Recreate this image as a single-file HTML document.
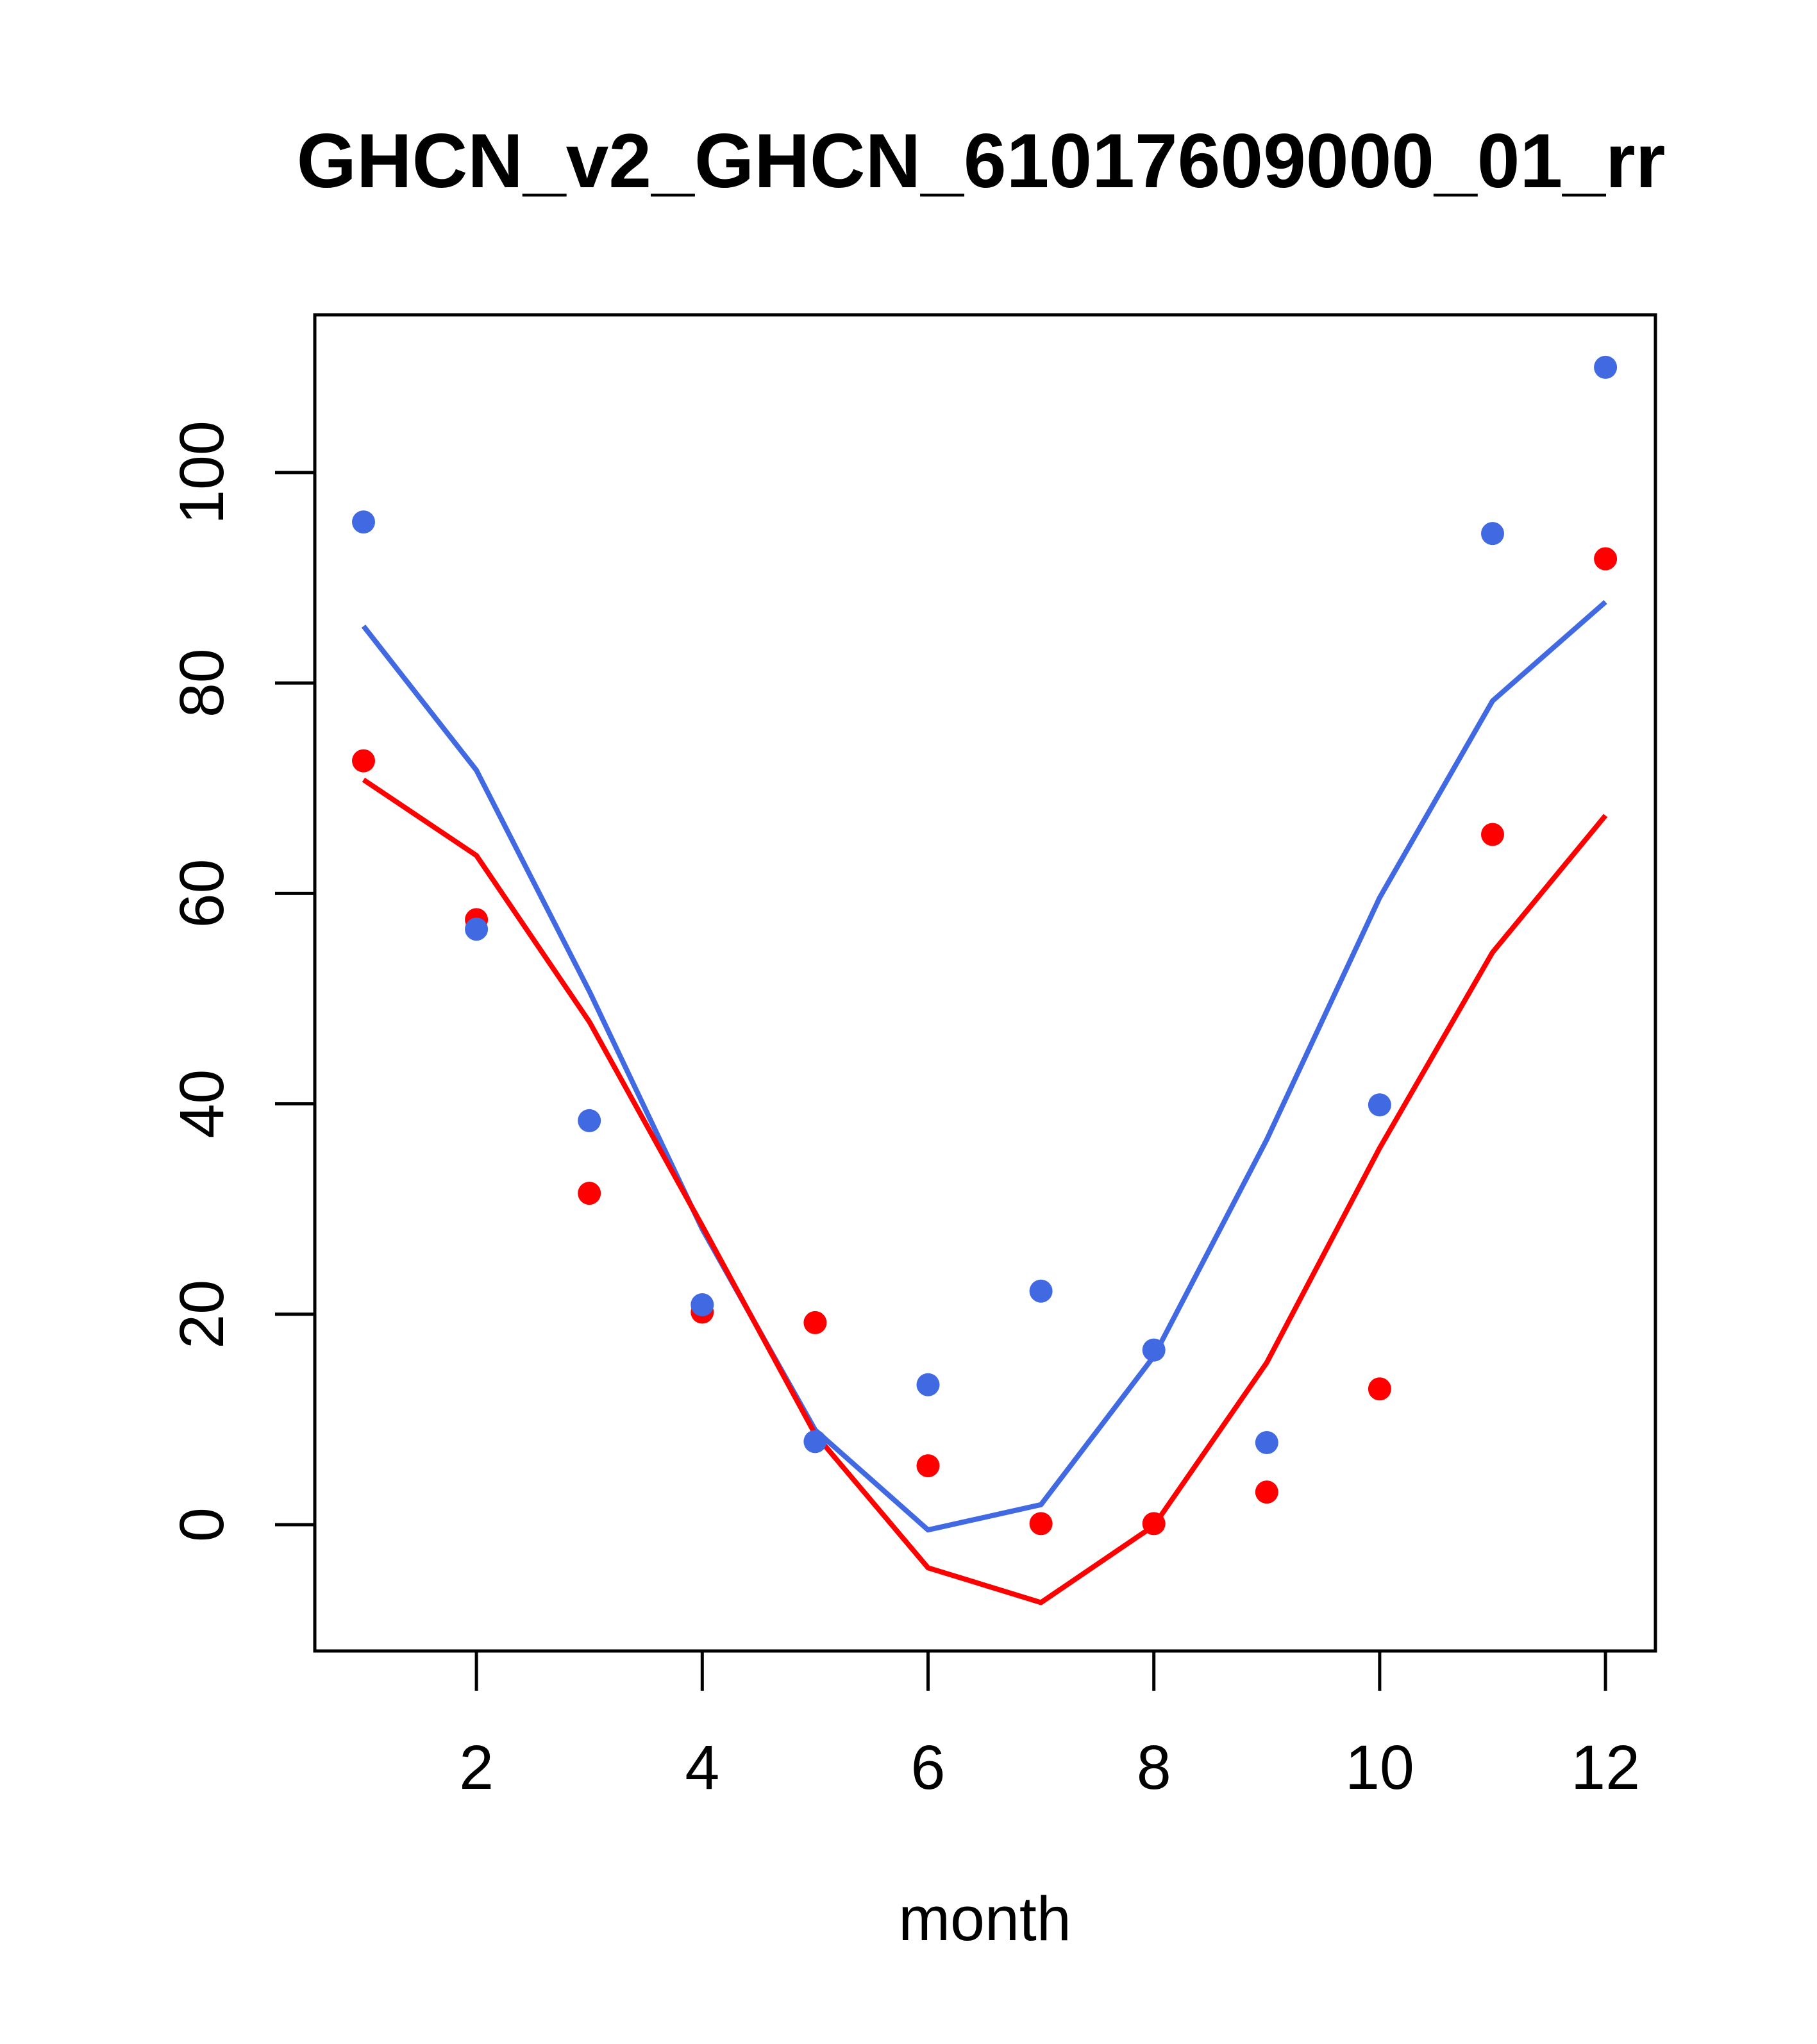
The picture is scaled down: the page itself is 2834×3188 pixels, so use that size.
<!DOCTYPE html>
<html><head><meta charset="utf-8"><style>body{margin:0;background:#fff}svg{display:block}</style></head>
<body>
<svg id="chart" width="2834" height="3188" xmlns="http://www.w3.org/2000/svg" font-family="Liberation Sans, Arial, sans-serif">
<text x="1530" y="292" font-size="120" font-weight="bold" text-anchor="middle">GHCN_v2_GHCN_61017609000_01_rr</text>
<rect x="491" y="491" width="2091" height="2084" fill="none" stroke="#000" stroke-width="5"/>
<text x="1536" y="3026" font-size="97" text-anchor="middle">month</text>
<g id="axes"></g><g id="series"></g>
</svg>
<script>
const months = [1,2,3,4,5,6,7,8,9,10,11,12];
const bluePoints = [95.3,56.6,38.4,20.9,7.9,13.3,22.2,16.6,7.8,39.9,94.2,110];
const redPoints = [72.6,57.5,31.5,20.2,19.2,5.6,0.1,0.1,3.1,12.9,65.6,91.8];
const blueLine = [85.4,71.7,50.7,28.1,9.0,-0.5,1.9,16.0,36.6,59.6,78.3,87.7];
const redLine = [70.8,63.6,47.8,28.4,8.6,-4.1,-7.4,-0.1,15.4,35.8,54.4,67.4];
const xTicks = [2,4,6,8,10,12];
const yTicks = [0,20,40,60,80,100];

const NS='http://www.w3.org/2000/svg';
function xs(m){return 567+(m-1)*176.1;}
function ys(v){return 2378-v*16.41;}
const axes=document.getElementById('axes'), series=document.getElementById('series');
function mk(tag,attrs,parent){const e=document.createElementNS(NS,tag);for(const k in attrs)e.setAttribute(k,attrs[k]);parent.appendChild(e);return e;}
xTicks.forEach(t=>{
  const l=mk('line',{x1:xs(t),x2:xs(t),y1:2575,y2:2637,stroke:'#000','stroke-width':5},axes);
  
  
  const tx=mk('text',{x:xs(t),y:2790,'font-size':97,'text-anchor':'middle'},axes);
  tx.textContent=t;
  
  
});
yTicks.forEach(t=>{
  const l=mk('line',{x1:429,x2:491,y1:ys(t),y2:ys(t),stroke:'#000','stroke-width':5},axes);
  
  
  const tx=mk('text',{x:348,y:ys(t),'font-size':97,'text-anchor':'middle',transform:`rotate(-90 348 ${ys(t)})`},axes);
  tx.textContent=t;
  
  
});
function line(vals,color,name){
  const p=mk('polyline',{points:vals.map((v,i)=>xs(months[i])+','+ys(v)).join(' '),fill:'none',stroke:color,'stroke-width':8,'stroke-linejoin':'round'},series);
  
  
}
function pts(vals,color,name){
  vals.forEach((v,i)=>{
    const c=mk('circle',{cx:xs(months[i]),cy:ys(v),r:18,fill:color},series);
    
    
  });
}
line(blueLine,'#4169e1','blue-line');
line(redLine,'#ff0000','red-line');
pts(redPoints,'#ff0000','red-point');
pts(bluePoints,'#4169e1','blue-point');
</script>
</body></html>
